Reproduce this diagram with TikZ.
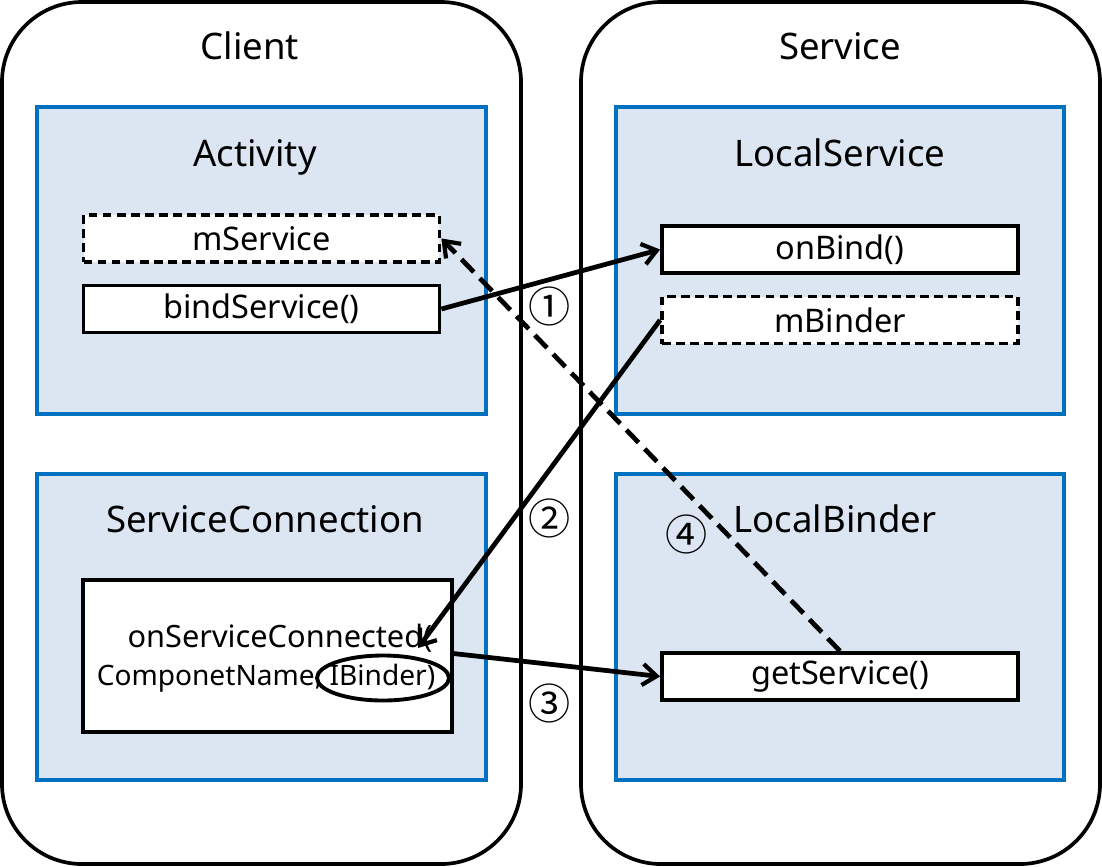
\documentclass[tikz,border=0pt]{standalone}
\usepackage{fontspec}
\setmainfont{Noto Sans}
\newfontfamily\circfont{Noto Sans CJK SC}
\usetikzlibrary{arrows.meta,shapes.geometric,positioning,calc}
\definecolor{panelblue}{HTML}{DCE6F2}
\definecolor{edgeblue}{HTML}{0070C0}
\begin{document}
\begin{tikzpicture}[
    x=0.02cm, y=-0.02cm,
    side/.style={draw, line width=2.1pt, rounded corners=1.6cm},
    panel/.style={draw=edgeblue, fill=panelblue, line width=1.9pt},
    member/.style={draw, fill=white, line width=2.2pt, minimum width=7.12cm, minimum height=0.94cm, font=\fontsize{18.5}{22}\selectfont, inner sep=0pt},
    ghost/.style={member, dashed, dash pattern=on 5pt off 3pt},
    title/.style={font=\fontsize{20.8}{25}\selectfont, anchor=base},
    step num/.style={font=\circfont\fontsize{24}{28}\selectfont},
    arr/.style={-{Straight Barb[length=8pt,width=12pt,line width=2.4pt]}, line width=2.7pt}
]
\useasboundingbox (0,0) rectangle (1102,866);
% outer processes
\draw[side] (2,2) rectangle (521,864);
\draw[side] (581,2) rectangle (1100,864);
\node[title] (client) at (250,59) {Client};
\node[title] (service) at (840,59) {Service};

% blue panels
\draw[panel] (37,107) rectangle (486,414);
\draw[panel] (37,474) rectangle (486,780);
\draw[panel] (616,107) rectangle (1064,414);
\draw[panel] (616,474) rectangle (1064,780);
\node[title] (activity) at (255,166) {Activity};
\node[title] (conn) at (265,532) {ServiceConnection};
\node[title] (localsvc) at (840,166) {LocalService};
\node[title] (localbnd) at (835,532) {LocalBinder};

% members
\node[ghost] (mservice) at (261.5,238.5) {mService};
\node[member] (bindsvc) at (261.5,309) {bindService()};
\node[member] (onbind) at (840,249.5) {onBind()};
\node[ghost] (mbinder) at (840,320) {mBinder};
\node[member] (getsvc) at (840,676.5) {getService()};
\node[member, minimum width=7.38cm, minimum height=3.04cm] (osc) at (267.5,656) {};
\node[font=\fontsize{17.5}{21}\selectfont, inner sep=1pt] (osc1) at (280,638) {onServiceConnected(};
\node[font=\fontsize{16}{19}\selectfont, inner sep=1pt] (osc2) at (266,678) {ComponetName, IBinder)};
\node[draw, ellipse, line width=2.2pt, minimum width=2.64cm, minimum height=0.9cm] (ibinder) at (383,678) {};
\coordinate (tip2) at (418,648);

% calls
\draw[arr] (bindsvc.east) -- (onbind.west);
\draw[arr] (mbinder.west) -- (tip2);
\draw[arr] (ibinder.north -| osc.east) -- (getsvc.west);
\draw[arr, dashed, dash pattern=on 10pt off 5pt] (getsvc.north) -- (mservice.east);
\node[step num] (n1) at (550,306) {①};
\node[step num] (n2) at (550,518) {②};
\node[step num] (n3) at (550,703) {③};
\node[step num] (n4) at (687,534) {④};
\end{tikzpicture}
\end{document}
